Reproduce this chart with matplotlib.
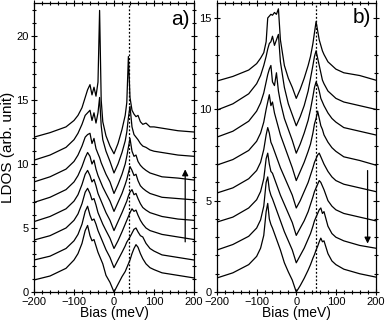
import matplotlib.pyplot as plt
from matplotlib.ticker import MultipleLocator

plt.rcParams['font.family'] = ['Liberation Sans', 'DejaVu Sans']

# panel a) bias grid and spectra (bottom to top)
bias_a = [-200, -160, -120, -100, -90, -80, -72, -66, -60, -55, -50, -45, -40, -36, -32, -28, -20, -10, 0,
          10, 20, 28, 32, 36, 40, 45, 50, 55, 60, 66, 72, 80, 90, 100, 120, 160, 200]
a0 = [0.94, 1.25, 1.85, 2.5, 3.0, 3.8, 4.8, 5.2, 4.4, 4.0, 4.1, 3.6, 3.1, 2.8, 2.5, 2.2, 1.3, 0.75, 0.0,
      0.6, 1.2, 1.6, 1.9, 2.2, 2.5, 3.0, 3.4, 3.7, 3.5, 3.0, 2.6, 2.2, 1.9, 1.75, 1.5, 1.3, 1.1]
a1 = [2.5, 2.8, 3.4, 4.0, 4.5, 5.3, 6.3, 6.7, 6.0, 5.6, 5.7, 5.3, 4.8, 4.5, 4.2, 3.9, 3.3, 2.7, 1.9,
      2.5, 3.1, 3.6, 3.9, 4.1, 4.3, 4.6, 4.9, 5.0, 4.7, 4.4, 4.3, 3.8, 3.4, 3.2, 2.9, 2.7, 2.5]
a2 = [4.06, 4.4, 5.0, 5.6, 6.1, 6.9, 7.8, 8.1, 7.7, 7.2, 7.3, 6.8, 6.2, 5.9, 5.6, 5.3, 4.8, 4.2, 3.4,
      4.0, 4.7, 5.3, 5.6, 5.9, 6.2, 6.5, 6.3, 6.4, 6.0, 5.6, 5.3, 5.0, 4.8, 4.7, 4.5, 4.3, 4.1]
a3 = [5.5, 5.9, 6.5, 7.1, 7.6, 8.4, 9.2, 9.5, 9.1, 8.6, 8.8, 8.3, 7.7, 7.4, 7.1, 6.8, 6.2, 5.6, 4.8,
      5.5, 6.2, 6.8, 7.1, 7.5, 7.8, 8.0, 7.6, 7.7, 7.3, 6.9, 6.6, 6.4, 6.2, 6.1, 5.9, 5.7, 5.6]
a4 = [7.0, 7.4, 8.0, 8.6, 9.1, 9.8, 10.5, 10.9, 10.6, 10.0, 10.3, 9.6, 9.1, 8.8, 8.5, 8.2, 7.7, 7.1, 6.3,
      7.0, 7.7, 8.4, 8.8, 9.3, 9.8, 9.5, 9.1, 9.2, 8.7, 8.3, 8.1, 7.9, 7.7, 7.6, 7.4, 7.3, 7.2]
a5 = [8.6, 9.0, 9.6, 10.2, 10.7, 11.4, 12.1, 12.3, 12.4, 11.6, 12.0, 11.2, 10.8, 10.5, 10.1, 9.8, 9.2, 8.6, 7.7,
      8.4, 9.2, 10.0, 10.6, 11.3, 12.0, 11.0, 10.6, 10.7, 10.2, 9.9, 9.7, 9.5, 9.3, 9.2, 9.0, 8.9, 8.75]
a6 = [10.3, 10.7, 11.3, 11.9, 12.4, 13.1, 13.8, 14.0, 14.2, 13.4, 14.0, 13.2, 14.0, 15.2, 13.0, 11.9, 11.0, 10.2, 9.3,
      10.0, 10.9, 11.8, 12.5, 13.6, 14.5, 12.9, 12.3, 12.1, 11.9, 11.6, 11.4, 11.3, 11.1, 11.0, 10.9, 10.7, 10.6]
a7 = [12.1, 12.45, 12.9, 13.4, 13.8, 14.4, 15.2, 15.8, 16.2, 15.4, 16.0, 15.3, 16.4, 22.0, 15.0, 13.3, 12.2, 11.4, 10.8,
      11.6, 12.7, 13.8, 14.8, 18.4, 15.2, 14.2, 13.9, 13.7, 13.8, 13.3, 13.1, 13.2, 12.9, 12.9, 12.8, 12.6, 12.5]

# panel b)
bias_b = [-200, -160, -120, -100, -90, -82, -76, -72, -68, -64, -60, -55, -50, -45, -40, -30, -20, -10, 0,
          10, 20, 30, 36, 42, 46, 50, 54, 58, 62, 66, 70, 75, 80, 90, 100, 120, 160, 200]
b0 = [0.77, 1.05, 1.5, 1.95, 2.4, 3.1, 4.4, 4.85, 4.0, 3.7, 3.5, 3.2, 2.9, 2.6, 2.3, 1.6, 1.1, 0.65, 0.0,
      0.35, 0.75, 1.2, 1.5, 1.85, 2.05, 2.3, 2.5, 2.75, 2.95, 2.75, 2.8, 2.45, 2.1, 1.7, 1.5, 1.25, 1.0, 0.82]
b1 = [2.30, 2.6, 3.05, 3.5, 3.95, 4.7, 6.0, 6.3, 5.6, 5.3, 5.1, 4.8, 4.5, 4.2, 3.9, 3.3, 2.8, 2.3, 1.6,
      2.0, 2.4, 2.9, 3.2, 3.6, 3.9, 4.1, 4.3, 4.5, 4.6, 4.3, 4.4, 4.0, 3.6, 3.2, 3.0, 2.8, 2.55, 2.4]
b2 = [3.83, 4.1, 4.6, 5.05, 5.5, 6.2, 7.3, 7.6, 7.0, 6.6, 6.5, 6.2, 5.9, 5.6, 5.3, 4.8, 4.3, 3.8, 3.1,
      3.5, 3.9, 4.4, 4.8, 5.2, 5.5, 5.7, 5.9, 6.1, 6.0, 5.8, 5.6, 5.3, 5.0, 4.7, 4.5, 4.3, 4.1, 3.9]
b3 = [5.42, 5.7, 6.2, 6.65, 7.1, 7.8, 8.6, 9.0, 8.7, 8.2, 8.0, 7.7, 7.4, 7.1, 6.8, 6.3, 5.8, 5.3, 4.6,
      5.0, 5.5, 6.0, 6.4, 6.8, 7.1, 7.3, 7.5, 7.6, 7.4, 7.2, 7.0, 6.8, 6.6, 6.3, 6.1, 5.9, 5.7, 5.5]
b4 = [6.95, 7.25, 7.75, 8.25, 8.7, 9.3, 10.0, 10.4, 10.8, 10.2, 10.4, 9.8, 9.4, 9.0, 8.6, 8.0, 7.4, 6.8, 6.1,
      6.6, 7.1, 7.7, 8.1, 8.7, 9.2, 9.5, 9.9, 9.5, 9.1, 8.9, 8.6, 8.4, 8.2, 7.9, 7.7, 7.4, 7.2, 6.95]
b5 = [8.48, 8.8, 9.35, 9.9, 10.35, 10.9, 11.5, 11.9, 12.2, 12.4, 11.5, 11.3, 12.0, 11.0, 10.4, 9.5, 8.9, 8.3, 7.6,
      8.1, 8.7, 9.4, 10.0, 10.7, 11.2, 11.5, 11.3, 11.0, 10.6, 10.4, 10.2, 10.0, 9.8, 9.5, 9.3, 9.0, 8.8, 8.6]
b6 = [9.96, 10.3, 10.85, 11.4, 11.85, 12.4, 12.9, 13.3, 13.6, 13.7, 14.0, 13.5, 13.8, 14.1, 12.6, 11.2, 10.3, 9.7, 9.1,
      9.6, 10.2, 11.0, 11.7, 12.4, 12.9, 13.2, 12.8, 12.4, 12.0, 11.6, 11.4, 11.2, 11.0, 10.8, 10.6, 10.4, 10.2, 10.0]
b7 = [11.55, 11.8, 12.15, 12.5, 12.8, 13.1, 13.7, 15.0, 15.1, 15.2, 15.15, 15.3, 15.2, 15.5, 13.8, 12.4, 11.7, 11.2, 10.6,
      11.1, 11.7, 12.4, 12.9, 13.6, 14.2, 14.8, 14.3, 13.8, 13.5, 13.2, 13.0, 12.8, 12.6, 12.4, 12.2, 12.0, 11.85, 11.6]

curves_a = [a0, a1, a2, a3, a4, a5, a6, a7]
curves_b = [b0, b1, b2, b3, b4, b5, b6, b7]

fig = plt.figure(figsize=(3.88, 3.21), dpi=100)
ax1 = fig.add_axes([0.0876, 0.0903, 0.4124, 0.9004])
ax2 = fig.add_axes([0.5593, 0.0903, 0.4085, 0.9004])

for c in curves_a:
    ax1.plot(bias_a, c, color='black', lw=0.9)
for c in curves_b:
    ax2.plot(bias_b, c, color='black', lw=0.9)

ax1.axvline(38, color='black', ls=(0, (1.5, 1.5)), lw=0.9)
ax2.axvline(50, color='black', ls=(0, (1.5, 1.5)), lw=0.9)

ax1.annotate('', xy=(178, 9.8), xytext=(178, 3.7),
             arrowprops=dict(arrowstyle='-|>', color='black', lw=0.9, mutation_scale=9))
ax2.annotate('', xy=(180, 2.5), xytext=(180, 6.8),
             arrowprops=dict(arrowstyle='-|>', color='black', lw=0.9, mutation_scale=9))

ax1.text(188, 21.3, 'a)', fontsize=15, ha='right', va='center')
ax2.text(188, 15.0, 'b)', fontsize=15, ha='right', va='center')

ax1.set_ylim(0, 22.58)
ax2.set_ylim(0, 15.82)
ax1.yaxis.set_major_locator(MultipleLocator(5))
ax2.yaxis.set_major_locator(MultipleLocator(5))

for ax in (ax1, ax2):
    ax.set_xlim(-200, 200)
    ax.xaxis.set_major_locator(MultipleLocator(100))
    ax.xaxis.set_minor_locator(MultipleLocator(20))
    ax.yaxis.set_minor_locator(MultipleLocator(1))
    ax.tick_params(which='both', direction='inout', top=True, right=True, labelsize=8, width=0.8)
    ax.tick_params(which='major', length=4)
    ax.tick_params(which='minor', length=3)
    ax.tick_params(axis='x', pad=1.5)
    ax.tick_params(axis='y', pad=2)
    ax.set_xlabel('Bias (meV)', fontsize=10)
    ax.xaxis.set_label_coords(0.5, -0.05)
    for s in ax.spines.values():
        s.set_linewidth(0.9)

ax1.set_ylabel('LDOS (arb. unit)', fontsize=11, labelpad=1)

fig.savefig('out.png', dpi=100)
